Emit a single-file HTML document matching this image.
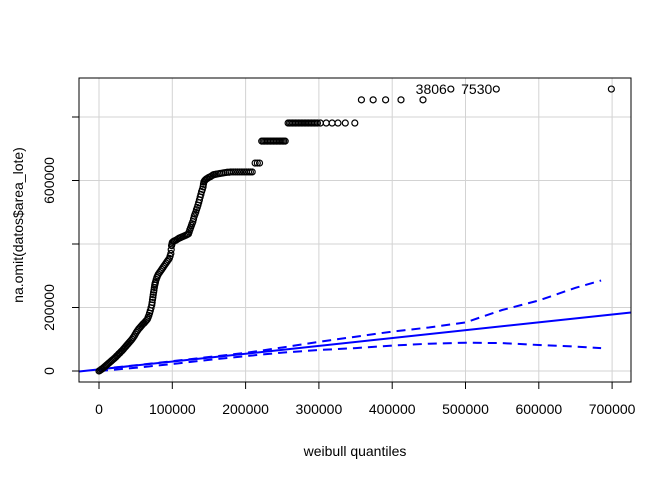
<!DOCTYPE html>
<html><head><meta charset="utf-8"><style>
html,body{margin:0;padding:0;background:#fff;}
svg{display:block;font-family:"Liberation Sans",Arial,sans-serif;}
</style></head><body>
<svg id="chart" width="672" height="480" viewBox="0 0 672 480" xmlns="http://www.w3.org/2000/svg">
<g id="grid"></g>
<g id="env"></g>
<g id="pts"></g>
<g id="axes"></g>
<rect x="79" y="78" width="552" height="304" fill="none" stroke="#000" stroke-width="1"/>
<text x="355" y="456" font-size="14" text-anchor="middle">weibull quantiles</text>
<text transform="translate(23,225) rotate(-90)" font-size="14" text-anchor="middle">na.omit(datos$area_lote)</text>
</svg>
<script>
// data in thousands
const quantiles=[0,1.5,3,4.5,6,7.5,9,10.5,12,13.5,15,16.5,18,19.5,21,22.5,24,25.5,27,28.5,30,31.5,33,34.5,36,37.5,39,40.5,42,43.5,45,46.5,48,49.5,51,52.5,54,55.5,57,58.5,60,61.5,63,64.5,66,67,68,69,70,71,72,72.5,73,73.5,74,74.5,75,75.5,76,76.5,77,78,79,80,81,82.5,84,85.5,87,88.5,90,91.5,93,94.5,96,97,98,98.5,99,99.5,100,101.5,103,105,107,109,111,113,115,117,119,120.5,122,123,124,125,126,127,128,129,130,131,132,133,134,135,136,137,138,139,140,141,142,142.5,143,144,145,146.5,148,150,152,154,156,158,160,162.5,165,167.5,170,172.5,175,177.5,180,183,186,189,192,195,198,201,204,206.5,209,213,216,219,222,224,226,228,230,232,234,236,238,240,242,244,246,248,250,252,254,258,260,262,264,266,268,270,272,274,276,278,280,282,284,286,288,290,292,294,296,298,302,310,318,326,336,349,358,374,391,412,442,480,542,699];
const values=[0,2,5,7,10,13,16,19,22,25,28,31,34,37,40,43,47,50,54,57,61,64,68,72,76,80,84,88,92,96,100,105,110,116,122,127,132,136,140,144,148,151,155,159,163,169,175,182,190,199,208,216,225,232,240,248,255,263,270,275,280,288,295,300,305,310,315,320,325,330,335,340,345,350,355,362,370,382,395,400,405,408,410,412,415,418,420,422,424,426,428,430,432,438,445,451,458,464,470,479,488,494,500,508,515,522,530,539,548,556,565,572,580,588,595,599,602,605,607,610,612,615,618,619,620,621,622,623,624,625,626,626,627,627,627,627,627,627,627,627,627,627,627,655,655,655,724,724,724,724,724,724,724,724,724,724,724,724,724,724,724,724,724,781,781,781,781,781,781,781,781,781,781,781,781,781,781,781,781,781,781,781,781,781,781,781,781,781,781,781,854,854,854,854,854,888,888,888];
const labelNames=["3806","7530"];
const labelIdx=[quantiles.length-3,quantiles.length-2];
const envQ=[0,50,100,150,200,250,300,350,400,450,500,550,600,650,685];
const envUpper=[6,18,31,44,57,74,92,108,124,137,153,192,222,262,285];
const envLower=[0,10,22,35,47,58,66,72,80,86,89,88,82,77,72];
const lineIntercept=5, lineSlope=0.247;
const xTicks=[0,100000,200000,300000,400000,500000,600000,700000];
const yTicks=[0,200000,400000,600000,800000];
const yLabelShown=[true,true,false,true,false];

const X=v=>99+v*0.733;       // v in thousands
const Y=v=>371-v*0.3175;
const NS="http://www.w3.org/2000/svg";
function mk(tag,attrs,parent){const e=document.createElementNS(NS,tag);for(const k in attrs)e.setAttribute(k,attrs[k]);parent.appendChild(e);return e;}
const grid=document.getElementById('grid'),axes=document.getElementById('axes'),env=document.getElementById('env'),pts=document.getElementById('pts');

xTicks.forEach(t=>{const x=X(t/1000);
 const g=mk('line',{x1:x,x2:x,y1:78,y2:382,stroke:'#d3d3d3','stroke-width':1},grid);
 
 
 const tk=mk('line',{x1:x,x2:x,y1:382,y2:389,stroke:'#000'},axes);
 
 
 const tx=mk('text',{x:x,y:414,'font-size':14,'text-anchor':'middle'},axes);tx.textContent=String(t);
 
 
});
yTicks.forEach((t,i)=>{const y=Y(t/1000);
 const g=mk('line',{x1:79,x2:631,y1:y,y2:y,stroke:'#d3d3d3','stroke-width':1},grid);
 
 
 const tk=mk('line',{x1:72,x2:79,y1:y,y2:y,stroke:'#000'},axes);
 
 
 if(yLabelShown[i]){const tx=mk('text',{transform:`translate(54,${y}) rotate(-90)`,'font-size':14,'text-anchor':'middle'},axes);tx.textContent=String(t);
 
 }
});
const rl=mk('line',{x1:79,y1:Y(lineIntercept+lineSlope*((79-99)/0.733)),x2:631,y2:Y(lineIntercept+lineSlope*((631-99)/0.733)),stroke:'#0000ff','stroke-width':2},env);


function pl(arr,name){const d=envQ.map((q,i)=>X(q).toFixed(1)+','+Y(arr[i]).toFixed(1)).join(' ');
 const p=mk('polyline',{points:d,fill:'none',stroke:'#0000ff','stroke-width':2,'stroke-dasharray':'9,6'},env);
 
 }
pl(envUpper,'upper-envelope');pl(envLower,'lower-envelope');
quantiles.forEach((q,i)=>{const c=mk('circle',{cx:X(q),cy:Y(values[i]),r:3,fill:'none',stroke:'#000','stroke-width':1.2},pts);
 
 });
labelIdx.forEach((idx,i)=>{const t=mk('text',{x:X(quantiles[idx])-4,y:Y(values[idx])+5,'font-size':14,'text-anchor':'end'},pts);t.textContent=labelNames[i];
 
 });
</script>
</body></html>
